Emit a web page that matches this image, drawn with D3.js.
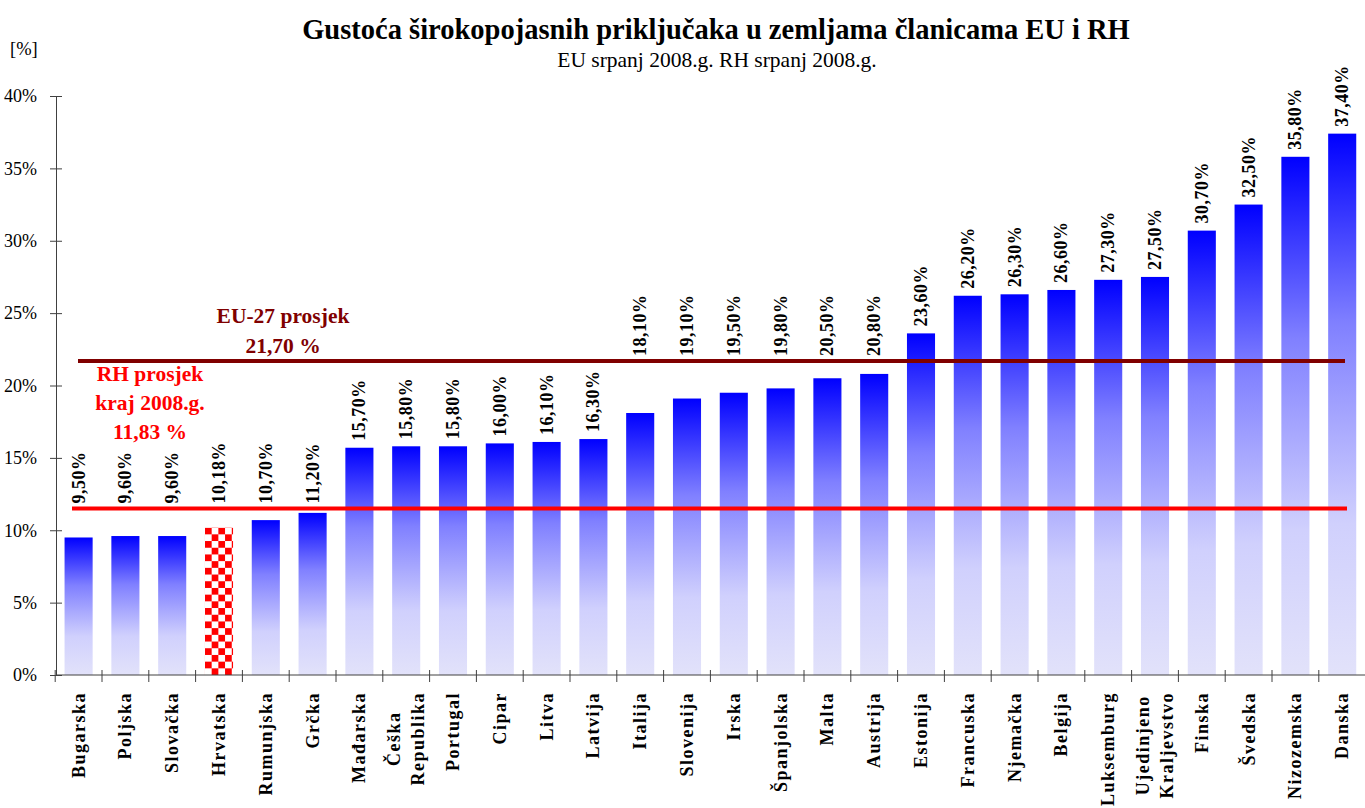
<!DOCTYPE html>
<html><head><meta charset="utf-8">
<script src="https://cdn.jsdelivr.net/npm/d3@7"></script>
<style>
html,body{margin:0;padding:0;background:#fff;}
svg{display:block;font-family:"Liberation Serif","Times New Roman",serif;}
</style></head>
<body>
<svg id="chart" width="1365" height="808"></svg>
<script>
const categories = ["Bugarska","Poljska","Slovačka","Hrvatska","Rumunjska","Grčka","Mađarska","Češka\nRepublika","Portugal","Cipar","Litva","Latvija","Italija","Slovenija","Irska","Španjolska","Malta","Austrija","Estonija","Francuska","Njemačka","Belgija","Luksemburg","Ujedinjeno\nKraljevstvo","Finska","Švedska","Nizozemska","Danska"];
const values = [9.5,9.6,9.6,10.18,10.7,11.2,15.7,15.8,15.8,16.0,16.1,16.3,18.1,19.1,19.5,19.8,20.5,20.8,23.6,26.2,26.3,26.6,27.3,27.5,30.7,32.5,35.8,37.4];
const highlight = "Hrvatska";
const yTicks = [0,5,10,15,20,25,30,35,40];
const euAverage = 21.7;
const euLabel = ["EU-27 prosjek","21,70 %"];
const rhLineLevel = 11.5;
const rhLabel = ["RH prosjek","kraj 2008.g.","11,83 %"];
const title = "Gustoća širokopojasnih priključaka u zemljama članicama EU i RH";
const subtitle = "EU srpanj 2008.g. RH srpanj 2008.g.";
const yUnit = "[%]";

const svg = d3.select("#chart");
const defs = svg.append("defs");

const x = d3.scaleBand().domain(categories).range([55.2, 1365.6]).paddingInner(0.4).paddingOuter(0.2);
const y = d3.scaleLinear().domain([0, 40]).range([675, 96]);

// gradient
const grad = defs.append("linearGradient").attr("id","barGrad").attr("x1",0).attr("y1",0).attr("x2",0).attr("y2",1);
[[0,"#0000ff"],[0.35,"#8080ff"],[0.72,"#d0d0fd"],[1,"#e2e2fa"]].forEach(([o,c])=>grad.append("stop").attr("offset",o).attr("stop-color",c));

// title
svg.append("text").attr("x",716).attr("y",39).attr("text-anchor","middle")
  .attr("font-size",28.5).attr("font-weight","bold").text(title);
svg.append("text").attr("x",717).attr("y",67).attr("text-anchor","middle")
  .attr("font-size",21.5).text(subtitle);
svg.append("text").attr("x",10).attr("y",55).attr("font-size",18.5).text(yUnit);

// y axis
const yAxis = svg.append("g").attr("transform","translate(56,0)")
  .call(d3.axisLeft(y).tickValues(yTicks).tickFormat(d=>d+"%").tickSize(6).tickSizeOuter(0).tickPadding(13));
yAxis.select(".domain").attr("stroke","#404040");
yAxis.selectAll(".tick line").attr("x1",-6).attr("x2",6).attr("stroke","#404040");
yAxis.selectAll(".tick text").attr("font-size",18).attr("font-family","Liberation Serif").attr("fill","#000");

// bars
const step = x.step();
const data = categories.map((c,i)=>({c, v: values[i]}));
data.forEach(d=>{
  if (d.c === highlight) {
    const bx = x(d.c), by = y(d.v), s = 6.7;
    const p = defs.append("pattern").attr("id","checker").attr("patternUnits","userSpaceOnUse")
      .attr("x",bx).attr("y",by).attr("width",2*s).attr("height",2*s);
    p.append("rect").attr("width",2*s).attr("height",2*s).attr("fill","#fff");
    p.append("rect").attr("x",0).attr("y",0).attr("width",s).attr("height",s).attr("fill","#ff0000");
    p.append("rect").attr("x",s).attr("y",s).attr("width",s).attr("height",s).attr("fill","#ff0000");
  }
});
svg.append("g").selectAll("rect").data(data).join("rect")
  .attr("x",d=>x(d.c)).attr("width",x.bandwidth())
  .attr("y",d=>y(d.v)).attr("height",d=>y(0)-y(d.v))
  .attr("fill",d=>d.c===highlight?"url(#checker)":"url(#barGrad)");

// x axis
const xa = svg.append("g");
xa.append("line").attr("x1",56).attr("x2",1365).attr("y1",y(0)).attr("y2",y(0)).attr("stroke","#404040");
d3.range(categories.length+1).forEach(i=>{
  const bx = x.range()[0] + i*step;
  xa.append("line").attr("x1",bx).attr("x2",bx).attr("y1",y(0)-5).attr("y2",y(0)+7).attr("stroke","#404040");
});

// category labels
const catG = svg.append("g");
data.forEach(d=>{
  const lines = d.c.split("\n");
  const cx = x(d.c) + x.bandwidth()/2;
  const lh = 24;
  const g = catG.append("g");
  const texts = lines.map((l,j)=>{
    return g.append("text").attr("font-size",18).attr("font-weight","bold").attr("letter-spacing","1.5px")
      .attr("text-anchor","middle").text(l);
  });
  const maxLen = d3.max(texts, t=>t.node().getComputedTextLength());
  const top = 692;
  texts.forEach((t,j)=>{
    const bx = cx + (j - (lines.length-1)/2)*lh + 6;
    const cy = top + maxLen/2;
    t.attr("transform",`translate(${bx},${cy}) rotate(-90)`);
  });
});

// value labels
const fmt = v => v.toFixed(2).replace(".",",") + "%";
const lineLevels = [rhLineLevel, euAverage];
const valG = svg.append("g");
data.forEach(d=>{
  const cx = x(d.c) + x.bandwidth()/2;
  const t = valG.append("text").attr("font-size",18).attr("font-weight","bold").attr("letter-spacing","0.5px")
    .attr("text-anchor","start").text(fmt(d.v));
  const len = t.node().getComputedTextLength();
  let yb = y(d.v) - 7;
  lineLevels.forEach(L=>{
    if (d.v < L && yb - len < y(L) + 3) yb = Math.min(yb, y(L) - 5);
  });
  t.attr("transform",`translate(${cx+6},${yb}) rotate(-90)`);
});

// average lines
svg.append("line").attr("x1",78).attr("x2",1345).attr("y1",y(euAverage)).attr("y2",y(euAverage))
  .attr("stroke","#800000").attr("stroke-width",4);
svg.append("line").attr("x1",72).attr("x2",1347).attr("y1",y(rhLineLevel)).attr("y2",y(rhLineLevel))
  .attr("stroke","#ff0000").attr("stroke-width",4);

euLabel.forEach((l,i)=>svg.append("text").attr("x",283).attr("y",323+i*30).attr("text-anchor","middle")
  .attr("font-size",21.5).attr("font-weight","bold").attr("fill","#800000").text(l));
rhLabel.forEach((l,i)=>svg.append("text").attr("x",150).attr("y",381+i*28.8).attr("text-anchor","middle")
  .attr("font-size",21.5).attr("font-weight","bold").attr("fill","#ff0000").text(l));
</script>
</body></html>
